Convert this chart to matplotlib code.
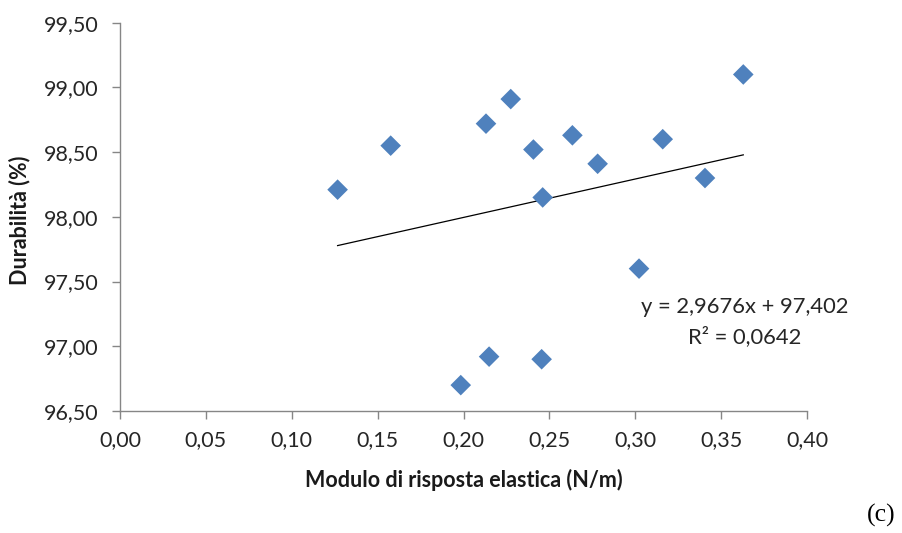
import matplotlib
matplotlib.use("Agg")
import matplotlib.pyplot as plt
import numpy as np
from matplotlib.ticker import FuncFormatter, MultipleLocator

# Data
modulo = [0.1267, 0.1576, 0.1984, 0.2131, 0.2149, 0.2275, 0.2407, 0.2455,
          0.2461, 0.2634, 0.2781, 0.3022, 0.3160, 0.3406, 0.3629]
durabilita = [98.21, 98.55, 96.70, 98.72, 96.92, 98.91, 98.52, 96.90,
              98.15, 98.63, 98.41, 97.60, 98.60, 98.30, 99.10]
slope = 2.9676
intercept = 97.402
r2 = 0.0642

plt.rcParams['font.family'] = ['Lato', 'DejaVu Sans']

fig = plt.figure(figsize=(9.03, 5.33), dpi=100)
ax = fig.add_axes([120/903, 1-411/533, (807-120)/903, (411-22.7)/533])

ax.scatter(modulo, durabilita, marker='D', s=10.5**2, color='#4F81BD',
           edgecolors='none', zorder=3)

xt = np.array([min(modulo), max(modulo)])
ax.plot(xt, slope*xt + intercept, color='black', lw=0.9, zorder=2)

ax.set_xlim(0, 0.40)
ax.set_ylim(96.5, 99.5)
ax.xaxis.set_major_locator(MultipleLocator(0.05))
ax.yaxis.set_major_locator(MultipleLocator(0.5))
fmt = FuncFormatter(lambda v, p: f"{v:.2f}".replace('.', ','))
ax.xaxis.set_major_formatter(fmt)
ax.yaxis.set_major_formatter(fmt)

for s in ['top', 'right']:
    ax.spines[s].set_visible(False)
for s in ['left', 'bottom']:
    ax.spines[s].set_color('#868686')
    ax.spines[s].set_linewidth(1.0)
ax.tick_params(direction='out', length=6, width=1.0, color='#868686',
               labelsize=15.5, labelcolor='#262626')
ax.tick_params(axis='y', pad=9.5)
ax.tick_params(axis='x', pad=8)

ax.set_xlabel('Modulo di risposta elastica (N/m)', fontsize=15.5,
              fontweight='bold', color='#1a1a1a')
ax.set_ylabel('Durabilità (%)', fontsize=15.5, fontweight='bold',
              color='#1a1a1a')
ax.xaxis.set_label_coords(0.5, (411-480)/388.3)
ax.xaxis.label.set_va('center')
ax.yaxis.set_label_coords((20-120)/687, (411-220)/388.3)
ax.yaxis.label.set_va('center')

fig.text(745/903, 1-307/533, f"y = {slope:.4f}x + {intercept:.3f}".replace('.', ','),
         ha='center', va='center', fontsize=15.8, color='#262626')
fig.text(745/903, 1-337/533, f"R² = {r2:.4f}".replace('.', ','),
         ha='center', va='center', fontsize=15.8, color='#262626')

fig.text(881/903, 1-515/533, '(c)', ha='center', va='center', fontsize=18.5,
         family=['Liberation Serif'], color='black')

fig.savefig('out.png', dpi=100)
